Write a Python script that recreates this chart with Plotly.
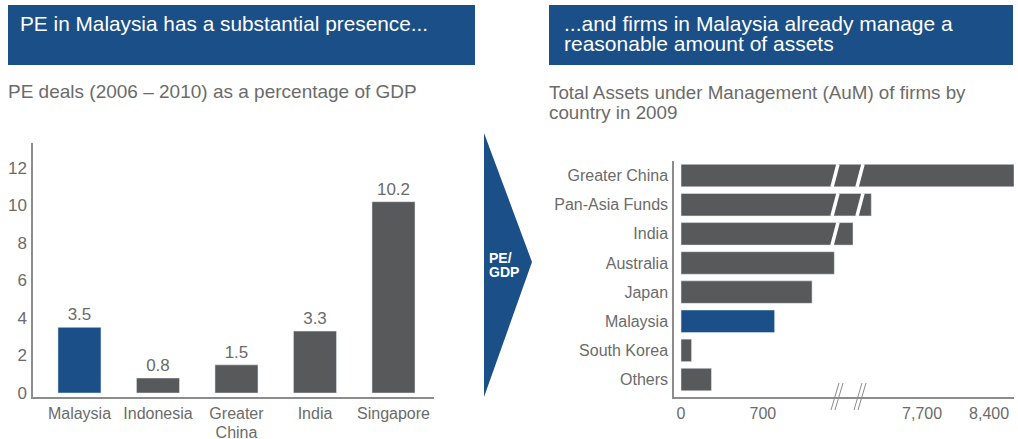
import plotly.graph_objects as go

# ---------------- data ----------------
pe_countries = ["Malaysia", "Indonesia", "Greater China", "India", "Singapore"]
pe_values = [3.5, 0.8, 1.5, 3.3, 10.2]
pe_ticks = [0, 2, 4, 6, 8, 10, 12]

aum_countries = ["Greater China", "Pan-Asia Funds", "India", "Australia", "Japan",
                 "Malaysia", "South Korea", "Others"]
aum_values = [8660, 7170, 5450, 1310, 1120, 800, 90, 260]
aum_ticks_low = [0, 700]
aum_ticks_high = [7700, 8400]

left_title = "PE in Malaysia has a substantial presence..."
left_sub = "PE deals (2006 \u2013 2010) as a percentage of GDP"
right_title = ["...and firms in Malaysia already manage a", "reasonable amount of assets"]
right_sub = ["Total Assets under Management (AuM) of firms by", "country in 2009"]
arrow_text = ["PE/", "GDP"]

# ---------------- style ----------------
W, H = 1018, 439
BLUE = "#1a4f87"
GREY = "#58595b"
TXT = "#6b6b6b"
AXIS = "#8c8c8c"
FONT = "Liberation Sans, Arial, sans-serif"
NARROW = "Liberation Sans Narrow, Liberation Sans, Arial, sans-serif"


def px(x):
    return x / W


def py(y):
    return 1 - y / H


def colors(cats):
    return [BLUE if c == "Malaysia" else GREY for c in cats]


fig = go.Figure()

# left bar chart
fig.add_trace(go.Bar(
    x=pe_countries, y=pe_values, marker_color=colors(pe_countries), width=0.548,
    text=[f"{v:.1f}" for v in pe_values], textposition="outside",
    textfont=dict(size=17, color=TXT, family=FONT), cliponaxis=False,
    xaxis="x", yaxis="y", showlegend=False, hoverinfo="x+y"))

# right bar chart (broken axis: three segments)
for xa in ["x2", "x3", "x4"]:
    fig.add_trace(go.Bar(
        y=aum_countries, x=aum_values, orientation="h",
        marker_color=colors(aum_countries), width=0.772,
        xaxis=xa, yaxis="y2", showlegend=False, hoverinfo="y+x"))

tickfont = dict(size=16, color=TXT, family=FONT)
common = dict(showline=True, linecolor=AXIS, linewidth=1.5, showgrid=False,
              zeroline=False, ticks="", ticklen=0, automargin=False)

# category labels: the two-line label is set with ~19 px leading
pe_ticktext = ["<br>".join(f'<span style="font-size:16px">{w}</span>' for w in c.split(" "))
               for c in pe_countries]

fig.update_layout(
    width=W, height=H, margin=dict(l=0, r=0, t=0, b=0),
    plot_bgcolor="white", paper_bgcolor="white",
    font=dict(family=FONT, color=TXT),
    xaxis=dict(domain=[px(33), px(434)], anchor="y", type="category",
               range=[-0.592, 4.516], tickvals=pe_countries, ticktext=pe_ticktext,
               tickfont=dict(size=14.8, color=TXT, family=FONT),
               ticklabelstandoff=2, **common),
    yaxis=dict(domain=[py(397), py(143)], anchor="x", range=[-0.213, 13.33],
               tickvals=pe_ticks, tickfont=dict(size=17, color=TXT, family=FONT),
               ticklabelstandoff=1, **common),
    xaxis2=dict(domain=[px(674), px(835)], anchor="y2", range=[-60, 1316],
                tickvals=aum_ticks_low, ticktext=[f"{v:,}" for v in aum_ticks_low],
                tickfont=tickfont, ticklabelstandoff=1, **common),
    xaxis3=dict(domain=[px(835), px(860)], anchor="y2", range=[1316, 7052],
                showticklabels=False, **common),
    xaxis4=dict(domain=[px(860), px(1014)], anchor="y2", range=[7052, 8660],
                tickvals=aum_ticks_high, ticktext=[f"{v:,}" for v in aum_ticks_high],
                tickfont=tickfont, ticklabelstandoff=1, **common),
    yaxis2=dict(domain=[py(397), py(161)], anchor="x2", type="category",
                range=[7.6, -0.5], tickfont=tickfont, ticklabelstandoff=1, **common),
)

shapes = []
# title banners
shapes.append(dict(type="rect", xref="paper", yref="paper", x0=px(8), x1=px(475),
                   y0=py(65), y1=py(5), fillcolor=BLUE, line_width=0, layer="below"))
shapes.append(dict(type="rect", xref="paper", yref="paper", x0=px(549), x1=px(1013),
                   y0=py(65), y1=py(5), fillcolor=BLUE, line_width=0, layer="below"))
# arrow
shapes.append(dict(type="path", xref="paper", yref="paper",
                   path=f"M {px(484)} {py(133)} L {px(532)} {py(262)} L {px(484)} {py(397)} Z",
                   fillcolor=BLUE, line_width=0))
# white slashes on the long bars (top three categories)
for i in range(3):
    for xc in (835, 860):
        shapes.append(dict(type="line", xref="paper", yref="y2",
                           x0=px(xc - 3), x1=px(xc + 3), y0=i + 0.39, y1=i - 0.39,
                           line=dict(color="white", width=3.5)))
# axis break marks
for xc in (837, 860):
    for dx in (-2, 2):
        shapes.append(dict(type="line", xref="paper", yref="paper",
                           x0=px(xc + dx - 4), x1=px(xc + dx + 4), y0=py(410), y1=py(383),
                           line=dict(color=AXIS, width=1)))
fig.update_layout(shapes=shapes)

ann = []


def text(x, y, lines, size, color, gap=None, family=FONT, bold=False):
    # lines are set 'gap' px apart: the annotation's own font size fixes the
    # line spacing (1.3 em) while the span carries the visible glyph size
    if gap is None:
        base, s = size, lines[0]
    else:
        base = gap / 1.3
        s = "<br>".join(f'<span style="font-size:{size}px">{t}</span>' for t in lines)
    if bold:
        s = "<b>" + s + "</b>"
    ann.append(dict(x=px(x), y=py(y), xref="paper", yref="paper", text=s,
                    showarrow=False, xanchor="left", yanchor="middle", align="left",
                    font=dict(size=base, color=color, family=family)))


text(18, 23, [left_title], 20.8, "white")
text(6, 91, [left_sub], 19, TXT)
text(562, 33, right_title, 21, "white", gap=20)
text(547, 102, right_sub, 18.8, TXT, gap=20)
text(487, 265, arrow_text, 14, "white", gap=13.5, family=NARROW, bold=True)
fig.update_layout(annotations=ann)

fig.write_html("out.html", post_script="document.body.style.margin='0';",
               config={"displayModeBar": False})
